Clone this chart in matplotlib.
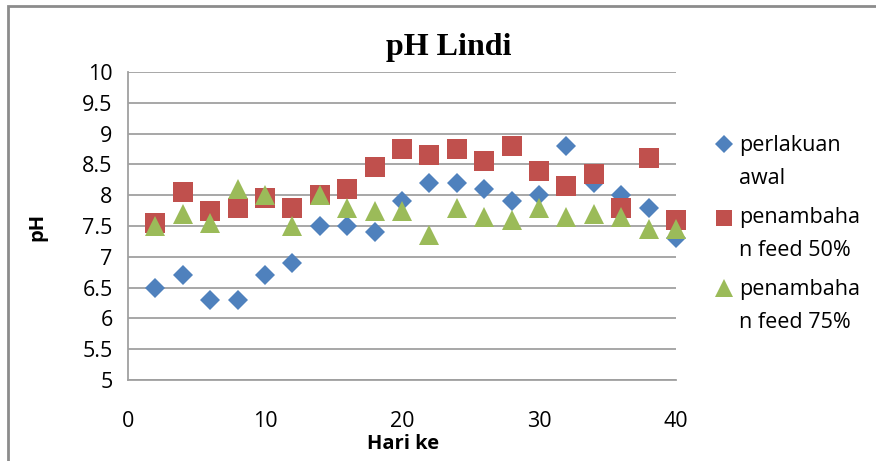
import matplotlib
matplotlib.use("Agg")
import matplotlib.pyplot as plt
from matplotlib.lines import Line2D
from matplotlib.patches import Rectangle

# ---- data ----
hari = [2, 4, 6, 8, 10, 12, 14, 16, 18, 20, 22, 24, 26, 28, 30, 32, 34, 36, 38, 40]
perlakuan_awal = [6.5, 6.7, 6.3, 6.3, 6.7, 6.9, 7.5, 7.5, 7.4, 7.9,
                  8.2, 8.2, 8.1, 7.9, 8.0, 8.8, 8.2, 8.0, 7.8, 7.3]
feed_50 = [7.55, 8.05, 7.75, 7.8, 7.95, 7.8, 8.0, 8.1, 8.45, 8.75,
           8.65, 8.75, 8.55, 8.8, 8.4, 8.15, 8.35, 7.8, 8.6, 7.6]
feed_75 = [7.5, 7.7, 7.55, 8.1, 8.0, 7.5, 8.0, 7.8, 7.75, 7.75,
           7.35, 7.8, 7.65, 7.6, 7.8, 7.65, 7.7, 7.65, 7.45, 7.45]
series_labels = ["perlakuan\nawal", "penambaha\nn feed 50%", "penambaha\nn feed 75%"]
x_ticks = [0, 10, 20, 30, 40]
y_ticks = [5, 5.5, 6, 6.5, 7, 7.5, 8, 8.5, 9, 9.5, 10]
y_tick_labels = ["5", "5.5", "6", "6.5", "7", "7.5", "8", "8.5", "9", "9.5", "10"]

W, H = 876, 461
fig = plt.figure(figsize=(W / 100, H / 100), dpi=100)
fig.patch.set_facecolor("white")

def fx(px):
    return px / W

def fy(py):
    return 1 - py / H

# chart area border
fig.add_artist(Rectangle((fx(8), fy(480)), 1.2, (480 - 6) / H, transform=fig.transFigure,
                         fill=False, edgecolor="#8c8c8c", linewidth=2.0, clip_on=False))

ax = fig.add_axes([fx(128), fy(380), (676 - 128) / W, (380 - 72) / H])

blue = "#4F81BD"
red = "#C0504D"
green = "#9BBB59"
tick_font = "Open Sans"

ax.plot(hari, perlakuan_awal, linestyle="none", marker="D", markersize=10, color=blue,
        markeredgewidth=0, zorder=3, clip_on=False)
ax.plot(hari, feed_50, linestyle="none", marker="s", markersize=14, color=red,
        markeredgewidth=0, zorder=3, clip_on=False)
ax.plot(hari, feed_75, linestyle="none", marker="^", markersize=14.5, color=green,
        markeredgewidth=0, zorder=3, clip_on=False)

ax.set_xlim(0, 40)
ax.set_ylim(5, 10)
ax.set_xticks(x_ticks)
ax.set_xticklabels([str(t) for t in x_ticks])
ax.set_yticks(y_ticks)
ax.set_yticklabels(y_tick_labels)
ax.tick_params(axis="both", length=0, labelsize=15.5, colors="black")
ax.tick_params(axis="x", pad=22)
ax.tick_params(axis="y", pad=11)
for lbl in ax.get_xticklabels() + ax.get_yticklabels():
    lbl.set_fontfamily(tick_font)

ax.grid(axis="y", color="#a0a0a0", linewidth=1.3)
ax.set_axisbelow(True)
for side in ["top", "right"]:
    ax.spines[side].set_visible(False)
for side in ["left", "bottom"]:
    ax.spines[side].set_color("#a0a0a0")
    ax.spines[side].set_linewidth(1.3)

# title and axis labels
fig.text(fx(449), fy(47), "pH Lindi", ha="center", va="center",
         fontsize=23, fontweight="bold", family="Liberation Serif")
fig.text(fx(403), fy(444), "Hari ke", ha="center", va="center",
         fontsize=14.5, fontweight="bold", family=tick_font)
fig.text(fx(37), fy(227), "pH", ha="center", va="center", rotation=90,
         fontsize=14.5, fontweight="bold", family=tick_font)

# legend (drawn manually, markers aligned to first line like Excel)
leg_markers = [("D", 9, blue), ("s", 12, red), ("^", 13, green)]
leg_first_baseline = [151, 223, 295]
line_gap = 33
marker_y = [144, 218, 288]
for (m, ms, c), lab, base, my in zip(leg_markers, series_labels, leg_first_baseline, marker_y):
    fig.add_artist(Line2D([fx(724)], [fy(my)], marker=m, markersize=ms, color=c,
                          markeredgewidth=0, linestyle="none", transform=fig.transFigure))
    for i, part in enumerate(lab.split("\n")):
        fig.text(fx(739), fy(base + i * line_gap), part, ha="left", va="baseline",
                 fontsize=15.5, family=tick_font, color="black")

fig.savefig("out.png", dpi=100, facecolor="white")
